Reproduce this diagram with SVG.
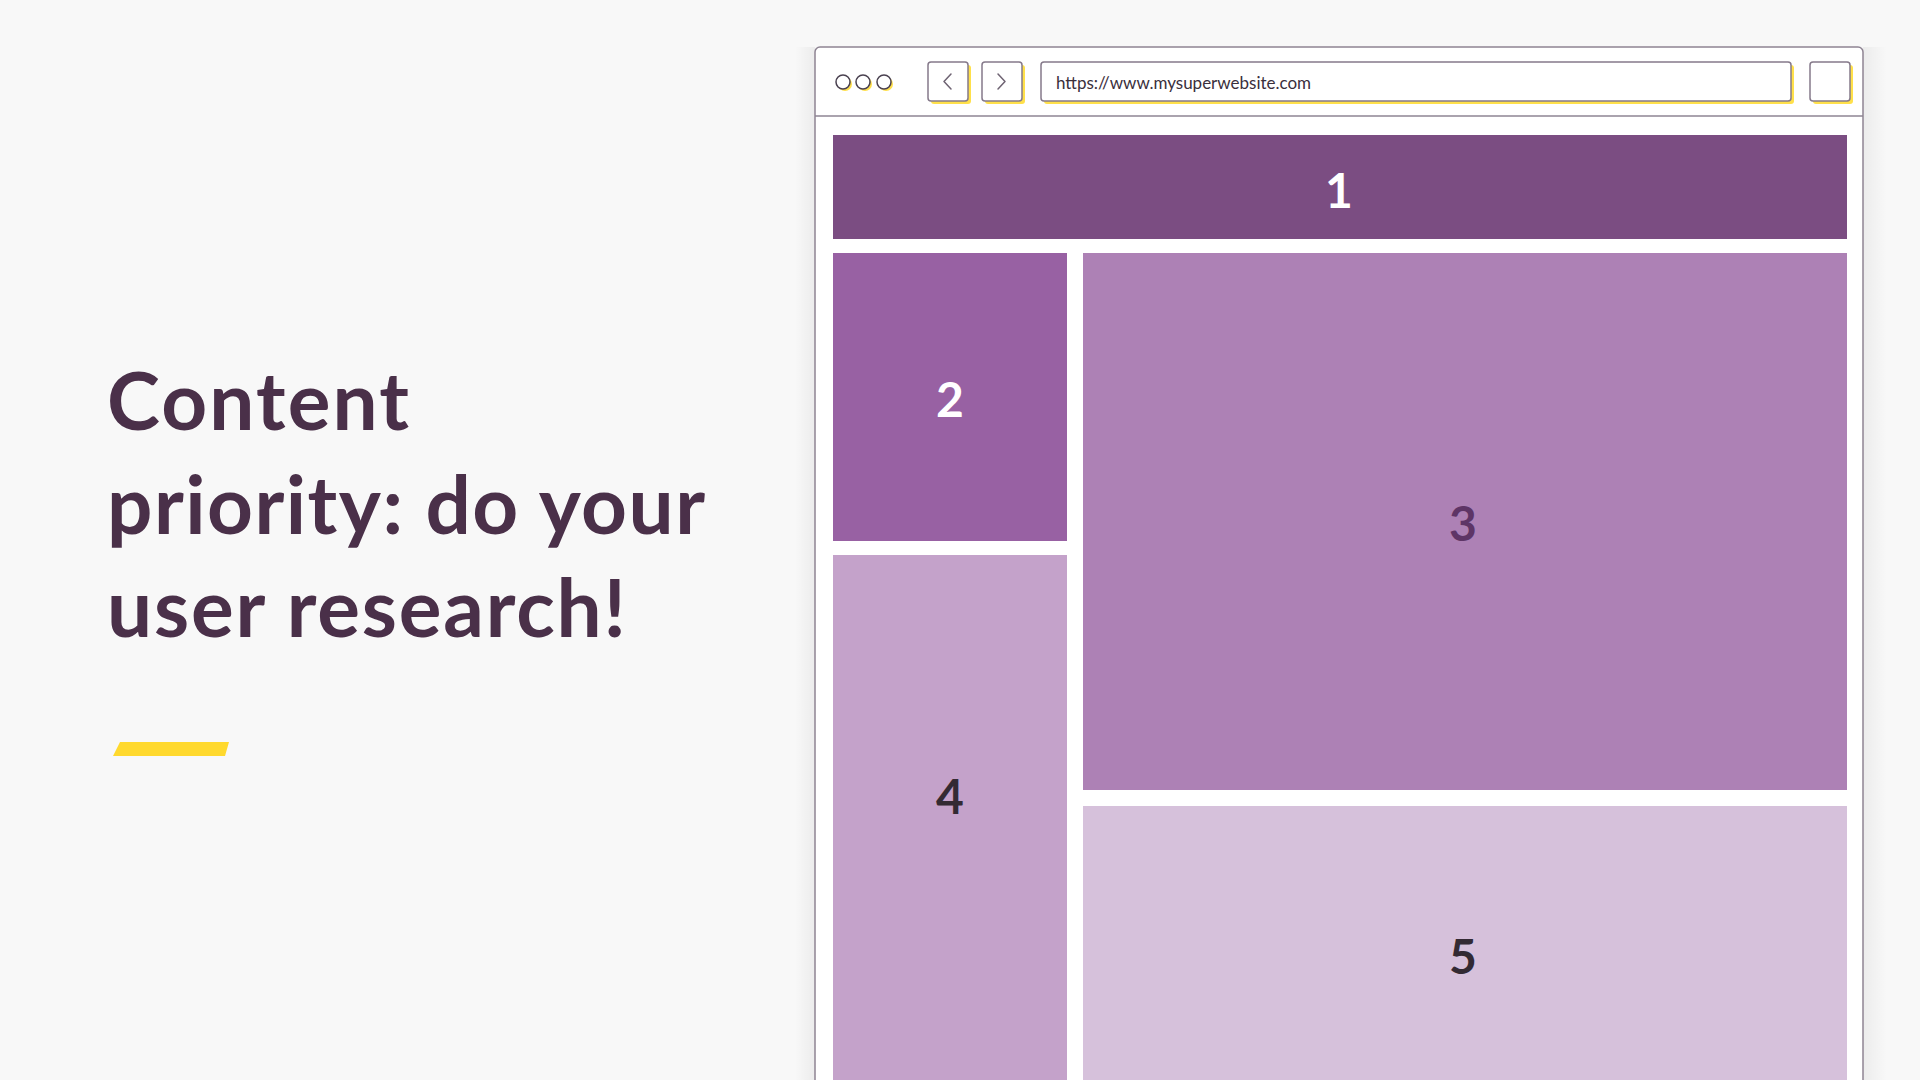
<svg xmlns="http://www.w3.org/2000/svg" width="1920" height="1080" viewBox="0 0 1920 1080">
  <defs>
    <linearGradient id="shadowL" x1="1" y1="0" x2="0" y2="0">
      <stop offset="0" stop-color="#000" stop-opacity="0.05"/>
      <stop offset="1" stop-color="#000" stop-opacity="0"/>
    </linearGradient>
    <linearGradient id="shadowR" x1="0" y1="0" x2="1" y2="0">
      <stop offset="0" stop-color="#000" stop-opacity="0.05"/>
      <stop offset="1" stop-color="#000" stop-opacity="0"/>
    </linearGradient>
  </defs>
  <style>
    .title { font-family: Lato, "Liberation Sans", sans-serif; font-weight: 700; font-size: 80px; fill: #4A3049; }
    .btn { fill: #ffffff; stroke: #85798A; stroke-width: 1.5; }
    .shadow { fill: #FFE04A; }
    .url { font-family: Lato, "Liberation Sans", sans-serif; font-size: 17px; fill: #3A2F3C; }
    .num { font-family: Lato, "Liberation Sans", sans-serif; font-weight: 700; font-size: 48px; text-anchor: middle; dominant-baseline: central; }
    .chev { fill: none; stroke: #6E6372; stroke-width: 1.5; stroke-linecap: round; stroke-linejoin: round; }
    .dot { fill: #ffffff; stroke: #4A4150; stroke-width: 1.5; }
  </style>
  <rect x="0" y="0" width="1920" height="1080" fill="#F8F8F8"/>

  <g id="title">
    <text class="title" x="107" y="430" textLength="302" lengthAdjust="spacing">Content</text>
    <text class="title" x="107" y="534" textLength="598" lengthAdjust="spacing">priority: do your</text>
    <text class="title" x="107" y="637" textLength="519" lengthAdjust="spacing">user research!</text>
  </g>
  <g id="accent">
    <polygon points="120,742 229,742 225,756 113,756" fill="#FFD92E"/>
  </g>

  <g id="browser">
    <rect x="795" y="47" width="20" height="1040" fill="url(#shadowL)"/>
    <rect x="1863" y="47" width="24" height="1040" fill="url(#shadowR)"/>
    <rect x="815" y="47" width="1048" height="1050" rx="5" fill="#ffffff" stroke="#8E8493" stroke-width="1.5"/>
    <line x1="815" y1="116" x2="1863" y2="116" stroke="#8E8493" stroke-width="1.5"/>
    <g id="dots">
      <circle cx="845" cy="84" r="7" class="shadow"/>
      <circle cx="843" cy="82" r="7" class="dot"/>
      <circle cx="865" cy="84" r="7" class="shadow"/>
      <circle cx="863" cy="82" r="7" class="dot"/>
      <circle cx="886" cy="84" r="7" class="shadow"/>
      <circle cx="884" cy="82" r="7" class="dot"/>
    </g>
    <g id="back">
      <rect x="931" y="65" width="40" height="39" rx="3" class="shadow"/>
      <rect x="928" y="62" width="40" height="39" rx="3" class="btn"/>
      <polyline points="951,74 944,81.5 951,89" class="chev"/>
    </g>
    <g id="forward">
      <rect x="985" y="65" width="40" height="39" rx="3" class="shadow"/>
      <rect x="982" y="62" width="40" height="39" rx="3" class="btn"/>
      <polyline points="998,74 1005,81.5 998,89" class="chev"/>
    </g>
    <g id="urlbar">
      <rect x="1044" y="65" width="750" height="39" rx="3" class="shadow"/>
      <rect x="1041" y="62" width="750" height="39" rx="3" class="btn"/>
      <text class="url" x="1056" y="89">https://www.mysuperwebsite.com</text>
    </g>
    <g id="menu">
      <rect x="1813" y="65" width="40" height="39" rx="3" class="shadow"/>
      <rect x="1810" y="62" width="40" height="39" rx="3" class="btn"/>
    </g>
  </g>

  <g id="block1">
    <rect x="833" y="135" width="1014" height="104" fill="#7B4D82"/>
    <text class="num" x="1339" y="189" fill="#ffffff">1</text>
  </g>
  <g id="block2">
    <rect x="833" y="253" width="234" height="288" fill="#9861A3"/>
    <text class="num" x="950" y="398" fill="#ffffff">2</text>
  </g>
  <g id="block3">
    <rect x="1083" y="253" width="764" height="537" fill="#AD81B5"/>
    <text class="num" x="1463" y="522" fill="#5E3566">3</text>
  </g>
  <g id="block4">
    <rect x="833" y="555" width="234" height="530" fill="#C4A2CA"/>
    <text class="num" x="950" y="795" fill="#332A33">4</text>
  </g>
  <g id="block5">
    <rect x="1083" y="806" width="764" height="280" fill="#D6C1DB"/>
    <text class="num" x="1463" y="955" fill="#332A33">5</text>
  </g>
  <g id="connectors"></g>
</svg>
